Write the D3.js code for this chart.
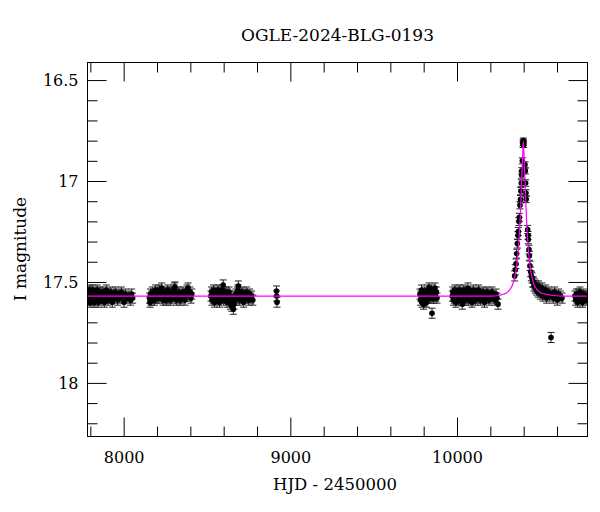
<!DOCTYPE html>
<html>
<head>
<meta charset="utf-8">
<script src="https://cdn.jsdelivr.net/npm/d3@7"></script>
<style>
  body { margin: 0; background: #fff; }
  svg { display: block; }
</style>
</head>
<body>
<div class="div_chart"></div>
<script>
// photometry by season: [HJD - 2450000, I mag]
const season2017 = [
  [7786, 17.57], [7788, 17.55], [7790, 17.59], [7792, 17.56], [7794, 17.58], [7796, 17.54], [7798, 17.60],
  [7800, 17.57], [7802, 17.55], [7804, 17.58], [7806, 17.56], [7808, 17.59], [7811, 17.57], [7814, 17.54],
  [7817, 17.58], [7820, 17.56], [7823, 17.60], [7826, 17.57], [7829, 17.55], [7832, 17.59], [7835, 17.56],
  [7838, 17.58], [7841, 17.54], [7844, 17.57], [7847, 17.60], [7850, 17.56], [7853, 17.58], [7856, 17.55],
  [7860, 17.57], [7864, 17.59], [7868, 17.56], [7872, 17.58], [7876, 17.55], [7880, 17.57], [7884, 17.60],
  [7888, 17.56], [7892, 17.58], [7896, 17.54], [7900, 17.57], [7905, 17.59], [7910, 17.56], [7915, 17.58],
  [7920, 17.55], [7926, 17.57], [7932, 17.60], [7938, 17.56], [7944, 17.58], [7950, 17.55], [7957, 17.57],
  [7964, 17.59], [7971, 17.56], [7978, 17.58], [7986, 17.55], [7994, 17.57], [8002, 17.60], [8010, 17.56],
  [8020, 17.58], [8030, 17.57], [8040, 17.59], [8048, 17.56], [8054, 17.58]
];
const season2018 = [
  [8155, 17.58], [8158, 17.60], [8161, 17.56], [8164, 17.59], [8168, 17.57], [8172, 17.55], [8176, 17.58],
  [8180, 17.56], [8184, 17.59], [8188, 17.57], [8192, 17.54], [8196, 17.58], [8200, 17.56], [8204, 17.55],
  [8208, 17.58], [8212, 17.56], [8216, 17.54], [8220, 17.57], [8224, 17.55], [8228, 17.53], [8232, 17.57],
  [8236, 17.59], [8240, 17.56], [8244, 17.58], [8248, 17.55], [8252, 17.57], [8256, 17.59], [8260, 17.56],
  [8264, 17.54], [8268, 17.58], [8272, 17.56], [8276, 17.55], [8280, 17.59], [8284, 17.57], [8288, 17.55],
  [8292, 17.58], [8296, 17.56], [8300, 17.54], [8304, 17.53], [8308, 17.525], [8312, 17.57], [8316, 17.59],
  [8320, 17.56], [8325, 17.58], [8330, 17.55], [8335, 17.57], [8340, 17.59], [8345, 17.56], [8350, 17.58],
  [8356, 17.55], [8362, 17.57], [8368, 17.59], [8374, 17.56], [8380, 17.54], [8386, 17.53], [8392, 17.57],
  [8398, 17.55], [8404, 17.58], [8409, 17.56]
];
const season2019 = [
  [8524, 17.57], [8527, 17.55], [8530, 17.59], [8533, 17.56], [8536, 17.58], [8539, 17.54], [8542, 17.57],
  [8545, 17.60], [8548, 17.56], [8551, 17.58], [8554, 17.55], [8557, 17.57], [8560, 17.59], [8563, 17.56],
  [8566, 17.54], [8569, 17.58], [8572, 17.56], [8575, 17.60], [8578, 17.57], [8581, 17.55], [8584, 17.58],
  [8587, 17.56], [8590, 17.54], [8594, 17.57], [8597, 17.515], [8600, 17.59], [8604, 17.56], [8608, 17.58],
  [8612, 17.55], [8616, 17.57], [8620, 17.60], [8624, 17.56], [8628, 17.58], [8632, 17.55], [8636, 17.57],
  [8640, 17.61], [8644, 17.59], [8648, 17.62], [8652, 17.60], [8656, 17.58], [8658, 17.635], [8662, 17.61],
  [8666, 17.57], [8670, 17.59], [8674, 17.56], [8678, 17.58], [8682, 17.55], [8686, 17.54], [8688, 17.52],
  [8692, 17.57], [8696, 17.59], [8700, 17.56], [8705, 17.58], [8710, 17.55], [8715, 17.57], [8720, 17.60],
  [8726, 17.56], [8732, 17.58], [8738, 17.55], [8744, 17.57], [8750, 17.59], [8756, 17.56], [8762, 17.58],
  [8768, 17.57], [8775, 17.59]
];
const season2020 = [[8917, 17.545], [8918, 17.57], [8920, 17.60]];
const season2022 = [
  [9778, 17.56], [9781, 17.59], [9784, 17.57], [9787, 17.54], [9790, 17.60], [9793, 17.58], [9796, 17.56],
  [9799, 17.61], [9802, 17.57], [9805, 17.55], [9808, 17.59], [9811, 17.56], [9814, 17.58], [9817, 17.60],
  [9820, 17.57], [9823, 17.54], [9826, 17.58], [9829, 17.56], [9832, 17.53], [9835, 17.57], [9838, 17.55],
  [9841, 17.58], [9844, 17.56], [9847, 17.54], [9850, 17.655], [9853, 17.57], [9856, 17.55], [9860, 17.58],
  [9864, 17.56], [9868, 17.53], [9872, 17.57], [9876, 17.55], [9880, 17.58]
];
const season2023 = [
  [9972, 17.57], [9975, 17.55], [9978, 17.59], [9981, 17.56], [9984, 17.58], [9987, 17.54], [9990, 17.57],
  [9993, 17.60], [9996, 17.56], [9999, 17.58], [10002, 17.55], [10005, 17.57], [10008, 17.59], [10011, 17.56],
  [10014, 17.54], [10017, 17.58], [10020, 17.56], [10023, 17.59], [10026, 17.57], [10029, 17.55], [10032, 17.61],
  [10035, 17.58], [10038, 17.56], [10041, 17.54], [10044, 17.57], [10047, 17.59], [10050, 17.56], [10054, 17.58],
  [10058, 17.55], [10062, 17.57], [10066, 17.53], [10070, 17.59], [10074, 17.56], [10078, 17.58], [10082, 17.55],
  [10086, 17.57], [10090, 17.60], [10094, 17.56], [10098, 17.54], [10102, 17.58], [10106, 17.56], [10110, 17.59],
  [10114, 17.57], [10118, 17.55], [10122, 17.58], [10126, 17.56], [10130, 17.54], [10135, 17.57], [10140, 17.59],
  [10145, 17.56], [10150, 17.58], [10155, 17.55], [10160, 17.57], [10165, 17.60], [10170, 17.56], [10175, 17.58],
  [10180, 17.55], [10186, 17.57], [10192, 17.59], [10198, 17.56], [10204, 17.58], [10210, 17.55], [10218, 17.57],
  [10226, 17.59], [10234, 17.56], [10240, 17.58], [10246, 17.61]
];
// the event season: [HJD - 2450000, I mag, error]
const season2024 = [
  [10346, 17.47, 0.025], [10350, 17.44, 0.025], [10354, 17.41, 0.024], [10358, 17.36, 0.022], [10362, 17.31, 0.022],
  [10366, 17.27, 0.02], [10368, 17.25, 0.02], [10372, 17.20, 0.02], [10374, 17.18, 0.02], [10378, 17.12, 0.018],
  [10381, 17.09, 0.018], [10383, 17.05, 0.018], [10386, 17.01, 0.016], [10388, 16.97, 0.016], [10389, 16.95, 0.016],
  [10392, 16.90, 0.015], [10396, 16.82, 0.014], [10397, 16.81, 0.014], [10398, 16.80, 0.013], [10399, 16.81, 0.013],
  [10400, 16.82, 0.014], [10408, 16.92, 0.015], [10410, 16.95, 0.015], [10412, 17.01, 0.016], [10414, 17.06, 0.017],
  [10415, 17.09, 0.017], [10424, 17.24, 0.02], [10426, 17.27, 0.02], [10428, 17.29, 0.021], [10432, 17.34, 0.022],
  [10434, 17.37, 0.022], [10438, 17.42, 0.023], [10442, 17.45, 0.024], [10446, 17.47, 0.024], [10450, 17.48, 0.025],
  [10454, 17.50, 0.025], [10458, 17.50, 0.025], [10462, 17.52, 0.025], [10466, 17.51, 0.025], [10470, 17.53, 0.025],
  [10474, 17.52, 0.025], [10478, 17.54, 0.025], [10482, 17.53, 0.025], [10486, 17.55, 0.025], [10490, 17.52, 0.025],
  [10495, 17.54, 0.025], [10500, 17.56, 0.025], [10505, 17.55, 0.025], [10510, 17.53, 0.025], [10515, 17.57, 0.025],
  [10520, 17.55, 0.025], [10526, 17.56, 0.025], [10532, 17.54, 0.025], [10538, 17.58, 0.025], [10544, 17.56, 0.025],
  [10550, 17.55, 0.025], [10556, 17.57, 0.025], [10564, 17.775, 0.025], [10570, 17.56, 0.025], [10578, 17.58, 0.025],
  [10586, 17.55, 0.025], [10594, 17.57, 0.025], [10602, 17.59, 0.025], [10610, 17.56, 0.025], [10620, 17.57, 0.025],
  [10630, 17.58, 0.025]
];
const season2025 = [
  [10708, 17.57], [10712, 17.59], [10716, 17.56], [10720, 17.58], [10724, 17.60], [10728, 17.56], [10733, 17.58],
  [10738, 17.55], [10743, 17.59], [10748, 17.57], [10753, 17.60], [10758, 17.56], [10763, 17.58], [10768, 17.57],
  [10774, 17.59], [10778, 17.57]
];
const baselineErr = 0.025;

// fitted model curve
const modelT = [7783, 10200, 10250, 10280, 10300, 10320, 10335, 10348, 10358, 10366, 10373, 10380, 10386, 10391, 10395,
  10398, 10401, 10405, 10410, 10416, 10423, 10430, 10438, 10448, 10460, 10478, 10500, 10530, 10580, 10650, 10783];
const modelMag = [17.57, 17.57, 17.567, 17.56, 17.552, 17.535, 17.51, 17.47, 17.42, 17.36, 17.28, 17.17, 17.04, 16.93, 16.85,
  16.805, 16.85, 16.93, 17.04, 17.17, 17.28, 17.36, 17.42, 17.47, 17.51, 17.535, 17.552, 17.56, 17.567, 17.57, 17.57];

const xMajorTicks = [8000, 9000, 10000];
const xMinorTicks = [7800, 8200, 8400, 8600, 8800, 9200, 9400, 9600, 9800, 10200, 10400, 10600];
const yMajorTicks = [16.5, 17, 17.5, 18];
const yMinorTicks = [16.6, 16.7, 16.8, 16.9, 17.1, 17.2, 17.3, 17.4, 17.6, 17.7, 17.8, 17.9, 18.1, 18.2];

const title = 'OGLE-2024-BLG-0193';
const xLabel = 'HJD - 2450000';
const yLabel = 'I magnitude';

const draw = () => {
  const width = 600;
  const height = 512;
  const box = { left: 87.5, right: 587.5, top: 62.5, bottom: 436.5 };
  const font = '"DejaVu Serif", "Liberation Serif", serif';

  const svg = d3
    .select('.div_chart')
    .append('svg')
    .attr('width', width)
    .attr('height', height);

  const x = d3.scaleLinear().domain([7783, 10783]).range([box.left, box.right]);
  const y = d3.scaleLinear().domain([16.413, 18.2655]).range([box.top, box.bottom]);

  svg
    .append('defs')
    .append('clipPath')
    .attr('id', 'plotClip')
    .append('rect')
    .attr('x', box.left)
    .attr('y', box.top)
    .attr('width', box.right - box.left)
    .attr('height', box.bottom - box.top);

  const styleAxis = (g) => {
    g.select('.domain').remove();
    g.selectAll('.tick line').attr('stroke', '#000').attr('stroke-width', 1);
    g.selectAll('text').attr('font-family', font).attr('font-size', 16).attr('fill', '#000');
  };

  // bottom
  svg.append('g')
    .attr('transform', `translate(0, ${box.bottom})`)
    .call(d3.axisBottom(x).tickValues(xMinorTicks).tickSize(-10).tickFormat(''))
    .call(styleAxis);
  svg.append('g')
    .attr('transform', `translate(0, ${box.bottom})`)
    .call(d3.axisBottom(x).tickValues(xMajorTicks).tickSize(-19).tickPadding(15).tickFormat(d3.format('d')))
    .call(styleAxis);
  // top
  svg.append('g')
    .attr('transform', `translate(0, ${box.top})`)
    .call(d3.axisTop(x).tickValues(xMinorTicks).tickSize(-10).tickFormat(''))
    .call(styleAxis);
  svg.append('g')
    .attr('transform', `translate(0, ${box.top})`)
    .call(d3.axisTop(x).tickValues(xMajorTicks).tickSize(-19).tickFormat(''))
    .call(styleAxis);
  // left
  svg.append('g')
    .attr('transform', `translate(${box.left}, 0)`)
    .call(d3.axisLeft(y).tickValues(yMinorTicks).tickSize(-10).tickFormat(''))
    .call(styleAxis);
  svg.append('g')
    .attr('transform', `translate(${box.left}, 0)`)
    .call(d3.axisLeft(y).tickValues(yMajorTicks).tickSize(-19).tickPadding(9).tickFormat((d) => String(d)))
    .call(styleAxis);
  // right
  svg.append('g')
    .attr('transform', `translate(${box.right}, 0)`)
    .call(d3.axisRight(y).tickValues(yMinorTicks).tickSize(-10).tickFormat(''))
    .call(styleAxis);
  svg.append('g')
    .attr('transform', `translate(${box.right}, 0)`)
    .call(d3.axisRight(y).tickValues(yMajorTicks).tickSize(-19).tickFormat(''))
    .call(styleAxis);

  const baseline = [season2017, season2018, season2019, season2020, season2022, season2023, season2025]
    .flat()
    .map((d) => [d[0], d[1], baselineErr]);
  const points = baseline.concat(season2024);

  const plot = svg.append('g').attr('clip-path', 'url(#plotClip)');
  const cap = 3.5;

  const bars = plot.append('g').attr('stroke', '#222').attr('stroke-width', 1).attr('fill', 'none');
  bars.selectAll('path')
    .data(points)
    .enter()
    .append('path')
    .attr('d', (d) => {
      const px = x(d[0]);
      const y0 = y(d[1] - d[2]);
      const y1 = y(d[1] + d[2]);
      return `M${px},${y0}V${y1}M${px - cap},${y0}H${px + cap}M${px - cap},${y1}H${px + cap}`;
    });

  plot.append('g')
    .selectAll('circle')
    .data(points)
    .enter()
    .append('circle')
    .attr('cx', (d) => x(d[0]))
    .attr('cy', (d) => y(d[1]))
    .attr('r', 2.8)
    .attr('fill', '#000');

  const model = modelT.map((t, i) => [t, modelMag[i]]);
  plot.append('path')
    .datum(model)
    .attr('fill', 'none')
    .attr('stroke', '#ff00ff')
    .attr('stroke-width', 1.2)
    .attr('d', d3.line().x((d) => x(d[0])).y((d) => y(d[1])).curve(d3.curveMonotoneX));

  // frame
  svg.append('rect')
    .attr('x', box.left)
    .attr('y', box.top)
    .attr('width', box.right - box.left)
    .attr('height', box.bottom - box.top)
    .attr('fill', 'none')
    .attr('stroke', '#000')
    .attr('stroke-width', 1);

  svg.append('text')
    .attr('x', (box.left + box.right) / 2)
    .attr('y', 41)
    .attr('text-anchor', 'middle')
    .attr('font-family', font)
    .attr('font-size', 17)
    .text(title);

  svg.append('text')
    .attr('x', 335)
    .attr('y', 490)
    .attr('text-anchor', 'middle')
    .attr('font-family', font)
    .attr('font-size', 16.5)
    .text(xLabel);

  svg.append('text')
    .attr('transform', 'translate(26, 249) rotate(-90)')
    .attr('text-anchor', 'middle')
    .attr('font-family', font)
    .attr('font-size', 17)
    .text(yLabel);
};

draw();
</script>
</body>
</html>
